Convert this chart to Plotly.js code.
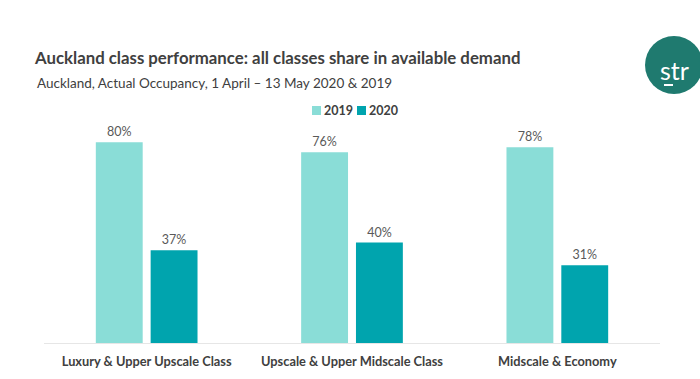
<!DOCTYPE html>
<html>
<head>
<meta charset="utf-8">
<script src="https://cdn.plot.ly/plotly-3.0.1.min.js"></script>
<style>html,body{margin:0;padding:0;background:#fff;}#chart{width:700px;height:379px;}</style>
</head>
<body>
<div id="chart"></div>
<script>
const categories = ["Luxury & Upper Upscale Class", "Upscale & Upper Midscale Class", "Midscale & Economy"];
const values2019 = [80, 76, 78];
const values2020 = [37, 40, 31];
const seriesNames = ["2019", "2020"];
const seriesColors = ['#8ADDD7', '#00A4AE'];

const FONT = "Lato, 'Open Sans', sans-serif";
const W = 700, H = 379;
const mL = 44, mR = 40, mT = 120, mB = 36;
const pw = W - mL - mR, ph = H - mT - mB;
function px2x(x){ return (x - mL) / pw; }
function px2y(y){ return (H - mB - y) / ph; }

const traces = [
  {type:'bar', name:seriesNames[0], x:categories, y:values2019,
   marker:{color:seriesColors[0]}, text:values2019.map(v=>v+'%'), textposition:'outside',
   textfont:{family:FONT, size:12.5, color:'#595959'}, cliponaxis:false, hoverinfo:'none'},
  {type:'bar', name:seriesNames[1], x:categories, y:values2020,
   marker:{color:seriesColors[1]}, text:values2020.map(v=>v+'%'), textposition:'outside',
   textfont:{family:FONT, size:12.5, color:'#595959'}, cliponaxis:false, hoverinfo:'none'}
];

// custom legend (swatch + label), positions in pixels
const legendX = [312, 357];
const legendAnn = [], legendShapes = [];
seriesNames.forEach((n,i)=>{
  legendShapes.push({type:'rect', xref:'paper', yref:'paper', x0:px2x(legendX[i]), x1:px2x(legendX[i]+9),
    y0:px2y(115), y1:px2y(106), fillcolor:seriesColors[i], line:{width:0}});
  legendAnn.push({text:'<b>'+n+'</b>', xref:'paper', yref:'paper', x:px2x(legendX[i]+11), y:px2y(110.5),
    xanchor:'left', yanchor:'middle', showarrow:false, borderpad:0, font:{family:FONT, size:12.5, color:'#404040'}});
});

const layout = {
  width:W, height:H,
  margin:{l:mL, r:mR, t:mT, b:mB},
  paper_bgcolor:'#ffffff', plot_bgcolor:'#ffffff',
  font:{family:FONT, color:'#404040'},
  title:{text:'<b>Auckland class performance: all classes share in available demand</b>',
    font:{family:FONT, size:16.8, color:'#404040'},
    xref:'container', x:35/W, xanchor:'left', yref:'container', y:1-58/H, yanchor:'middle'},
  barmode:'group', bargap:0.466, bargroupgap:0.145,
  showlegend:false,
  xaxis:{type:'category', showgrid:false, zeroline:false, showline:true, linecolor:'#e6e6e6', linewidth:1,
    ticks:'', tickfont:{family:FONT, size:12.8, color:'#404040', weight:'bold'}, ticklabelstandoff:7, fixedrange:true},
  yaxis:{range:[0, ph/2.51], visible:false, showgrid:false, zeroline:false, fixedrange:true},
  shapes:[
    {type:'circle', xref:'paper', yref:'paper', x0:px2x(645), x1:px2x(703), y0:px2y(94), y1:px2y(36),
     fillcolor:'#1F7A6F', line:{width:0}},
    {type:'line', xref:'paper', yref:'paper', x0:px2x(664), x1:px2x(673), y0:px2y(85), y1:px2y(85),
     line:{color:'#ffffff', width:2}}
  ].concat(legendShapes),
  annotations:[
    {text:'Auckland, Actual Occupancy, 1 April \u2013 13 May 2020 & 2019', xref:'paper', yref:'paper',
     x:px2x(35), y:px2y(83), xanchor:'left', yanchor:'middle', showarrow:false,
     font:{family:FONT, size:13.5, color:'#404040'}},
    {text:'str', xref:'paper', yref:'paper', x:px2x(674), y:px2y(70), xanchor:'center', yanchor:'middle',
     showarrow:false, font:{family:FONT, size:25, color:'#ffffff'}}
  ].concat(legendAnn)
};

Plotly.newPlot('chart', traces, layout, {displayModeBar:false, staticPlot:true});
</script>
</body>
</html>
